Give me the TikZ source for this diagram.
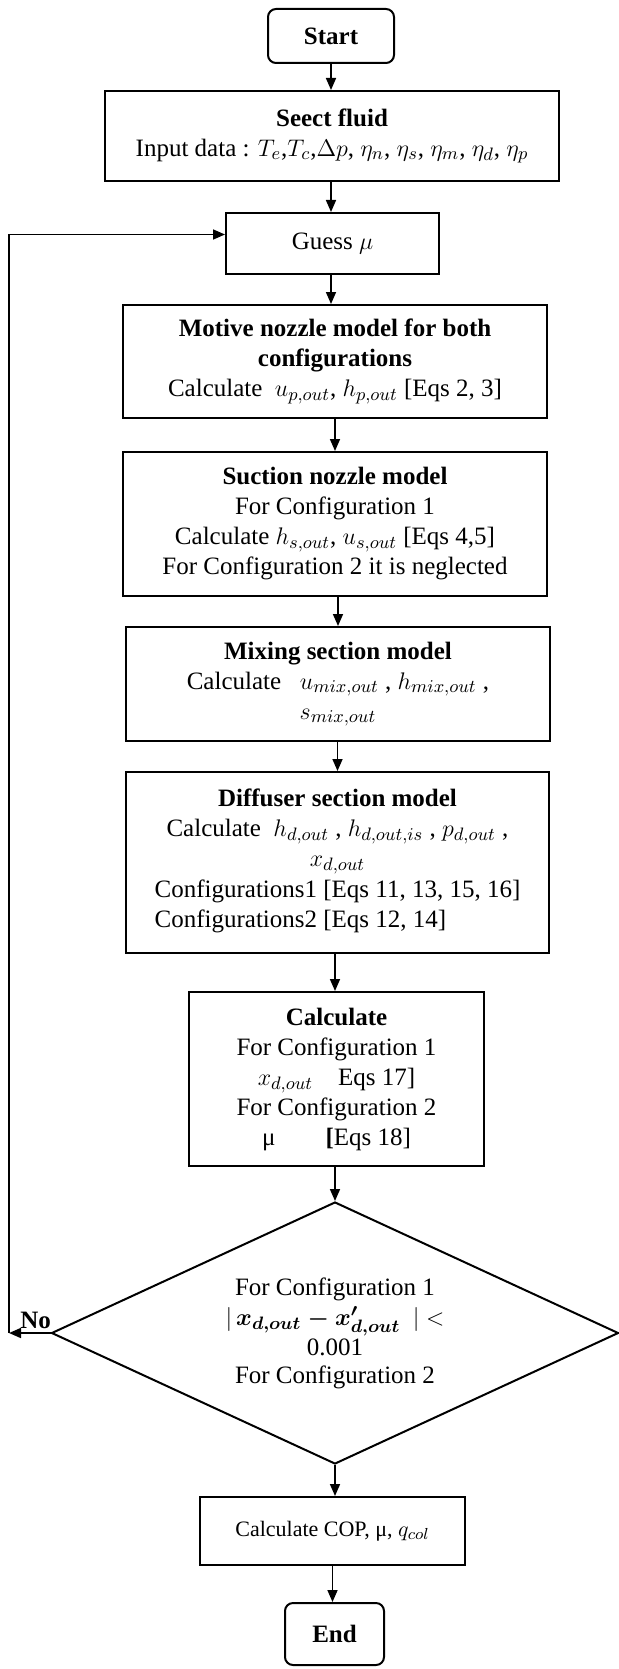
\documentclass[tikz,border=0pt]{standalone}
\usepackage{fontspec}
\setmainfont{Liberation Serif}
\usepackage{amsmath}
\usetikzlibrary{arrows.meta, positioning, shapes.geometric}

\begin{document}
\begin{tikzpicture}[x=0.5pt, y=-0.5pt,
    box/.style={rectangle, draw, line width=1pt, align=center, inner sep=2pt,
                font=\fontsize{12.5}{15}\selectfont},
    term/.style={box, rounded corners=4pt},
    test/.style={diamond, draw, line width=1pt, align=center, aspect=2.16,
                 inner sep=0pt, font=\fontsize{12.5}{14}\selectfont},
    arr/.style={-{Triangle[length=6pt, width=5pt]}, line width=0.8pt},
  ]
    \useasboundingbox (0,0) rectangle (619,1669);

    \node[term, minimum width=63pt, minimum height=27pt] (start) at (331,36)
      {\textbf{Start}};
    \node[box, minimum width=227pt, minimum height=45pt] (fluid) at (332,136)
      {\textbf{Seect fluid}\\Input data : $T_e$,$T_c$,$\Delta p$, $\eta_n$, $\eta_s$, $\eta_m$, $\eta_d$, $\eta_p$};
    \node[box, minimum width=106.5pt, minimum height=30.5pt] (guess) at (332.5,243.5)
      {Guess $\mu$};
    \node[box, minimum width=212pt, minimum height=56.5pt] (motive) at (335,361.5)
      {\textbf{Motive nozzle model for both}\\\textbf{configurations}\\Calculate \ $u_{p,out}$, $h_{p,out}$ [Eqs 2, 3]};
    \node[box, minimum width=212pt, minimum height=72pt] (suction) at (335,524)
      {\textbf{Suction nozzle model}\\For Configuration 1\\Calculate $h_{s,out}$, $u_{s,out}$ [Eqs 4,5]\\For Configuration 2 it is neglected};
    \node[box, minimum width=212pt, minimum height=57pt] (mixing) at (338,684)
      {\textbf{Mixing section model}\\Calculate \ \ $u_{mix,out}$ , $h_{mix,out}$ ,\\$s_{mix,out}$};
    \node[box, minimum width=211.5pt, minimum height=90.5pt] (diffuser) at (337.5,862.5)
      {\textbf{Diffuser section model}\\Calculate \ $h_{d,out}$ , $h_{d,out,is}$ , $p_{d,out}$ ,\\$x_{d,out}$\\
       \begin{tabular}{@{}l@{}}Configurations1 [Eqs 11, 13, 15, 16]\\Configurations2 [Eqs 12, 14]\end{tabular}};
    \node[box, minimum width=147.5pt, minimum height=87pt] (calc) at (336.5,1079)
      {\textbf{Calculate}\\For Configuration 1\\$x_{d,out}$\quad Eqs 17]\\For Configuration 2\\μ\hspace{2em}\textbf{[}Eqs 18]};
    \node[test, minimum width=283.5pt, minimum height=131pt] (check) at (335,1333)
      {For Configuration 1\\[1pt]$|\,\boldsymbol{x_{d,out}-x'_{d,out}}\ \ |<$\\[1pt]0.001\\For Configuration 2};
    \node[box, minimum width=132.5pt, minimum height=34pt, font=\fontsize{11}{13}\selectfont] (cop) at (332.5,1531)
      {Calculate COP, μ, $q_{col}$};
    \node[term, minimum width=49.5pt, minimum height=31pt] (finish) at (334.5,1634)
      {\textbf{End}};

    \coordinate (loop) at (9,1333);

    \draw[arr] (start.south) -- (start.south |- fluid.north);
    \draw[arr] (fluid.south -| start.south) -- (start.south |- guess.north);
    \draw[arr] (guess.south -| start.south) -- (start.south |- motive.north);
    \draw[arr] (motive.south) -- (motive.south |- suction.north);
    \draw[arr] (mixing.north |- suction.south) -- (mixing.north);
    \draw[arr] (diffuser.north |- mixing.south) -- (diffuser.north);
    \draw[arr] (check.north |- diffuser.south) -- (check.north |- calc.north);
    \draw[arr] (check.north |- calc.south) -- (check.north);
    \draw[arr] (check.south) -- (check.south |- cop.north);
    \draw[arr] (cop.south) -- (cop.south |- finish.north);

    \draw[arr] (check.west) -- node[above, pos=0.36, inner sep=1.5pt,
      font=\fontsize{12.5}{15}\selectfont\bfseries] {No} (loop);
    \draw[arr] (loop) |- ([yshift=4.5pt]guess.west);
  \end{tikzpicture}
\end{document}
